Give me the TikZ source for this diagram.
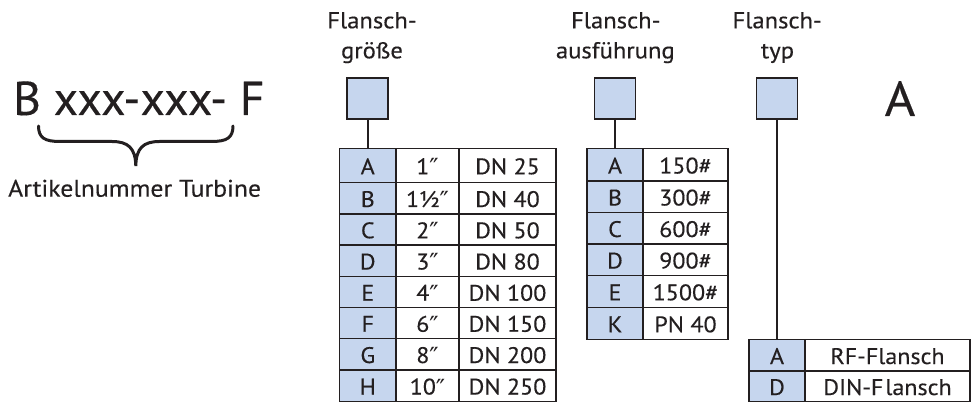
\documentclass[tikz,border=0pt]{standalone}
\usepackage{fontspec}
\setmainfont{PT Sans}[FakeStretch=1.07, FakeBold=0.3]
\newfontfamily\plainfont{PT Sans}[FakeBold=0.3]
\newfontfamily\primefont{DejaVu Sans}
\newcommand{\dprime}{\raisebox{-2.5pt}{\primefont\fontsize{25}{26}\selectfont ″}}
\definecolor{ink}{RGB}{35,31,32}
\definecolor{cellblue}{RGB}{198,214,238}
\tikzset{
  cell/.style={draw=ink, line width=1.8pt, inner sep=0pt, text=ink,
    text height=17.5pt, text depth=0pt, font=\fontsize{22.5}{26}\selectfont},
  keycell/.style={cell, fill=cellblue},
  slot/.style={draw=ink, line width=1.8pt, fill=cellblue, minimum size=41pt, inner sep=0pt},
  conn/.style={draw=ink, line width=1.8pt},
  lbl/.style={text=ink, inner sep=0pt, anchor=base, font=\fontsize{23}{27}\selectfont},
  big/.style={text=ink, inner sep=0pt, font=\plainfont\fontsize{47.5}{54}\selectfont},
}
\begin{document}
\begin{tikzpicture}[x=1pt,y=-1pt]
\useasboundingbox (0,0) rectangle (972,403);

% article number and brace
\node[big, anchor=base west] (code) at (13,115) {B xxx-xxx- F};
\draw[ink, line width=3pt, line cap=round]
  (38.5,126) .. controls (38.5,138) and (45,141.5) .. (60,141.5) -- (112,141.5)
  .. controls (128,141.5) and (135.5,148) .. (135.8,166)
  .. controls (136.1,148) and (143.5,141.5) .. (159.5,141.5) -- (211.5,141.5)
  .. controls (226.5,141.5) and (233,138) .. (233,126);
\node[lbl, anchor=base west, font=\fontsize{24}{28}\selectfont] (artnr) at (8,196.7) {Artikelnummer Turbine};

% column headings
\node[lbl] (h1a) at (372,28.3) {Flansch-};
\node[lbl] (h1b) at (372,58.3) {größe};
\node[lbl] (h2a) at (615.8,28.3) {Flansch-};
\node[lbl] (h2b) at (615.3,58.3) {ausführung};
\node[lbl] (h3a) at (777.2,28.3) {Flansch-};
\node[lbl] (h3b) at (777.5,58.3) {typ};

% code slots
\node[slot] (s1) at (367.75,98.75) {};
\node[slot] (s2) at (615,98.75) {};
\node[slot] (s3) at (777,98.75) {};
\node[big, anchor=base, font=\fontsize{49}{54}\selectfont] (fix) at (900,116) {A};

% flange size table
\foreach \k/\ya/\yb/\ltr/\inch/\dn in {
  1/148.5/182.5/A/1\dprime/DN 25,
  2/182.5/214/B/1½\dprime/DN 40,
  3/214/245/C/2\dprime/DN 50,
  4/245/276.5/D/3\dprime/DN 80,
  5/276.5/307.5/E/4\dprime/DN 100,
  6/307.5/338.5/F/6\dprime/DN 150,
  7/338.5/370/G/8\dprime/DN 200,
  8/370/401.5/H/10\dprime/DN 250}{
  \node[keycell, minimum width=56.5, minimum height={\yb-\ya}] (ga\k) at (367.75,{(\ya+\yb)/2}) {\ltr};
  \node[cell, minimum width=63, minimum height={\yb-\ya}] (gb\k) at (427.5,{(\ya+\yb)/2}) {\inch};
  \node[cell, minimum width=97, minimum height={\yb-\ya}] (gc\k) at (507.5,{(\ya+\yb)/2}) {\dn};
}

% flange rating table
\foreach \k/\ya/\yb/\ltr/\val in {
  1/148.5/181/A/150\#,
  2/181/212.5/B/300\#,
  3/212.5/244/C/600\#,
  4/244/275.5/D/900\#,
  5/275.5/307.5/E/1500\#,
  6/307.5/339.5/K/PN 40}{
  \node[keycell, minimum width=56.5, minimum height={\yb-\ya}] (ra\k) at (615,{(\ya+\yb)/2}) {\ltr};
  \node[cell, minimum width=84.5, minimum height={\yb-\ya}] (rb\k) at (685.5,{(\ya+\yb)/2}) {\val};
}

% flange type table
\foreach \k/\ya/\yb/\ltr/\val in {
  1/339.5/371/A/RF-Flansch,
  2/371/401.5/D/DIN-F\hspace{2pt}lansch}{
  \node[keycell, minimum width=56, minimum height={\yb-\ya}] (ta\k) at (777,{(\ya+\yb)/2}) {\ltr};
  \node[cell, minimum width=165, minimum height={\yb-\ya}] (tb\k) at (887.5,{(\ya+\yb)/2}) {\val};
}

% connectors from slots to their tables
\draw[conn] (s1.south) -- (ga1.north);
\draw[conn] (s2.south) -- (ra1.north);
\draw[conn] (s3.south) -- (ta1.north);
\end{tikzpicture}
\end{document}
